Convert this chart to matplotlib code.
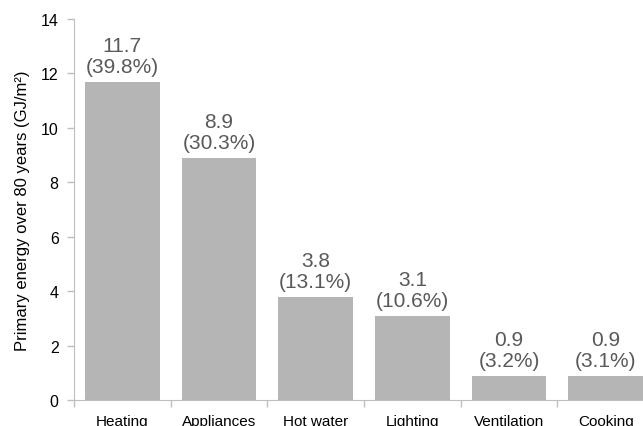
import matplotlib.pyplot as plt
import numpy as np

plt.rcParams['font.family'] = ['Liberation Sans', 'DejaVu Sans']

categories = ['Heating', 'Appliances', 'Hot water', 'Lighting', 'Ventilation', 'Cooking']
energy = [11.7, 8.9, 3.8, 3.1, 0.9, 0.9]
shares = [39.8, 30.3, 13.1, 10.6, 3.2, 3.1]

fig = plt.figure(figsize=(6.43, 4.27), dpi=100)
# axes runs past the right edge, as in the original crop
ax = fig.add_axes([74 / 643, 26 / 427, 580 / 643, 381 / 427])

x = np.arange(len(categories))
ax.bar(x, energy, width=0.77, color='#b5b5b5', zorder=2)

# value + share labels above each bar
for xi, v, s in zip(x, energy, shares):
    ax.annotate(f'{v:.1f}\n({s:.1f}%)', (xi, v), xytext=(0, 4),
                textcoords='offset points', ha='center', va='bottom',
                fontsize=15, color='#595959', linespacing=1.15)

ax.set_xlim(-0.5, len(categories) - 0.5)
ax.set_ylim(0, 14)
ax.set_yticks(np.arange(0, 15, 2))
ax.set_xticks(x)
ax.set_xticklabels(categories)
ax.set_xticks(np.arange(-0.5, len(categories), 1), minor=True)
ax.tick_params(axis='x', which='major', length=0, labelsize=11, pad=10)
ax.tick_params(axis='x', which='minor', length=5, color='#bfbfbf', width=1)
ax.tick_params(axis='y', length=5, color='#bfbfbf', width=1, labelsize=11.5, pad=6)

ax.set_ylabel('Primary energy over 80 years (GJ/m²)', fontsize=12, labelpad=8)

for side in ['top', 'right']:
    ax.spines[side].set_visible(False)
for side in ['left', 'bottom']:
    ax.spines[side].set_color('#bfbfbf')

fig.savefig('out.png', dpi=100)
